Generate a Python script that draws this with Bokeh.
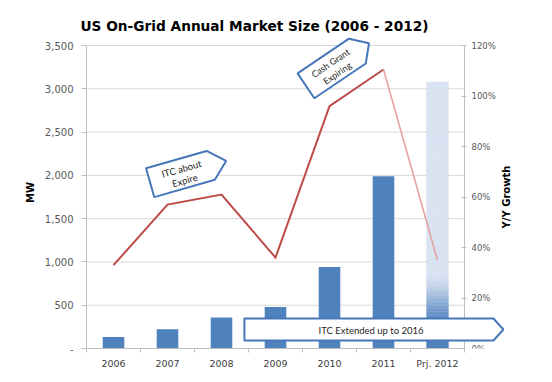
import math
from bokeh.plotting import figure
from bokeh.models import (Range1d, LinearAxis, FixedTicker, NumeralTickFormatter,
                          PrintfTickFormatter, PolyAnnotation, Label)
from bokeh.embed import file_html
from bokeh.resources import INLINE

# ---------------- data ----------------
years = ["2006", "2007", "2008", "2009", "2010", "2011", "Prj. 2012"]
market_mw = [134, 223, 358, 480, 942, 1990, 3078]
yoy_growth_pct = [33, 57, 61, 36, 96, 110.5, 35]
mw_ticks = [0, 500, 1000, 1500, 2000, 2500, 3000, 3500]
pct_ticks = [0, 20, 40, 60, 80, 100, 120]

# ---------------- styling / layout constants ----------------
BAR_BLUE = "#4f81bd"
BAR_LIGHT = (218, 227, 242)
LINE_RED = "#be4b48"
LINE_PALE = "#e6a3a1"
CALLOUT_BLUE = "#4677b8"
TICK_GRAY = "#595959"
AXIS_GRAY = "#bfbfbf"
GRID_GRAY = "#d9d9d9"

W, H = 544, 374
B_LEFT, B_RIGHT, B_TOP, B_BOTTOM = 86, 28, 36, 26
FRAME_W = W - B_LEFT - B_RIGHT
FRAME_H = H - B_TOP - B_BOTTOM
PX_PER_CAT = 54.0          # pixels per category
PX_PER_MW = 303.0 / 3500   # pixels per MW
X_LO, X_HI = -0.5, 6.5     # plotted category extent
Y_HI, PCT_HI = 3500, 120   # plotted value extent
X_END = X_LO + FRAME_W / PX_PER_CAT
Y_END = FRAME_H / PX_PER_MW
PCT_END = PCT_HI * Y_END / Y_HI

xs = list(range(len(years)))

p = figure(width=W, height=H, output_backend="svg", toolbar_location=None,
           x_range=Range1d(X_LO, X_END), y_range=Range1d(0, Y_END),
           min_border_left=B_LEFT, min_border_right=B_RIGHT,
           min_border_top=B_TOP, min_border_bottom=B_BOTTOM,
           title="US On-Grid Annual Market Size (2006 - 2012)")
p.outline_line_color = None
p.background_fill_color = "white"
p.border_fill_color = "white"
p.xgrid.visible = False
p.ygrid.visible = False

p.title.align = "left"
p.title.offset = -6
p.title.standoff = 5
p.title.text_font = "DejaVu Sans"
p.title.text_font_size = "13.7px"
p.title.text_font_style = "bold"
p.title.text_color = "#000000"

p.extra_y_ranges = {"pct": Range1d(0, PCT_END)}

# x axis
xax = p.xaxis[0]
xax.bounds = (X_LO, X_HI)
xax.ticker = FixedTicker(ticks=xs, minor_ticks=[x - 0.5 for x in xs] + [xs[-1] + 0.5])
xax.major_label_overrides = {i: y for i, y in enumerate(years)}
xax.major_tick_in = 0
xax.major_tick_out = 0
xax.minor_tick_in = 0
xax.minor_tick_out = 4
xax.minor_tick_line_color = AXIS_GRAY
xax.axis_line_color = AXIS_GRAY
xax.major_label_text_font = "DejaVu Sans"
xax.major_label_text_font_size = "9.5px"
xax.major_label_text_color = "#404040"
xax.major_label_standoff = 5

# left axis
yax = p.yaxis[0]
yax.bounds = (0, Y_HI)
yax.ticker = FixedTicker(ticks=mw_ticks)
yax.formatter = NumeralTickFormatter(format="0,0")
yax.major_label_overrides = {0: "-"}
yax.major_tick_in = 0
yax.major_tick_out = 5
yax.minor_tick_out = 0
yax.minor_tick_in = 0
yax.major_tick_line_color = AXIS_GRAY
yax.axis_line_color = AXIS_GRAY
yax.major_label_text_font = "DejaVu Sans"
yax.major_label_text_font_size = "10px"
yax.major_label_text_color = TICK_GRAY
yax.major_label_standoff = 8
yax.axis_label = "MW"
yax.axis_label_text_font = "DejaVu Sans"
yax.axis_label_text_font_size = "10px"
yax.axis_label_text_font_style = "bold"
yax.axis_label_text_color = "#000000"
yax.axis_label_standoff = 6

# right axis, drawn at the right end of the categories
rax = LinearAxis(y_range_name="pct", ticker=FixedTicker(ticks=pct_ticks),
                 formatter=PrintfTickFormatter(format="%d%%"),
                 fixed_location=X_HI, bounds=(0, PCT_HI))
rax.major_tick_in = 3
rax.major_tick_out = 2
rax.minor_tick_in = 0
rax.minor_tick_out = 0
rax.major_tick_line_color = AXIS_GRAY
rax.axis_line_color = AXIS_GRAY
rax.major_label_text_font = "DejaVu Sans"
rax.major_label_text_font_size = "8.5px"
rax.major_label_text_color = TICK_GRAY
rax.major_label_standoff = 5
p.add_layout(rax, "right")

# horizontal gridlines at the MW ticks, limited to the category extent
p.segment(x0=[X_LO] * len(mw_ticks), x1=[X_HI] * len(mw_ticks), y0=mw_ticks, y1=mw_ticks,
          line_color=GRID_GRAY, line_width=1)

# ---------------- bars ----------------
BAR_W = 0.4
p.vbar(x=xs[:-1], top=market_mw[:-1], width=BAR_W, fill_color=BAR_BLUE, line_color=None)

# projected bar: vertical gradient built from stacked slices
N = 80
proj = market_mw[-1]
dark = (79, 129, 189)
bots, tops, cols = [], [], []
for i in range(N):
    f = (i + 0.5) / N
    s = min(max((f - 0.07) / 0.22, 0.0), 1.0)
    s = s * s * (3 - 2 * s)
    c = tuple(int(round(dark[k] * (1 - s) + BAR_LIGHT[k] * s)) for k in range(3))
    bots.append(proj * i / N)
    tops.append(proj * (i + 1) / N)
    cols.append("#%02x%02x%02x" % c)
p.quad(left=[xs[-1] - BAR_W / 2] * N, right=[xs[-1] + BAR_W / 2] * N,
       bottom=bots, top=tops, fill_color=cols, line_color=cols, line_width=0.6)

# ---------------- growth line ----------------
p.line(xs[:-1], yoy_growth_pct[:-1], y_range_name="pct", line_color=LINE_RED,
       line_width=2, line_join="miter")
p.line(xs[-2:], yoy_growth_pct[-2:], y_range_name="pct", line_color=LINE_PALE, line_width=1.6)

# right axis title (reads bottom-to-top)
p.add_layout(Label(x=X_HI + 42 / PX_PER_CAT, y=PCT_HI / 2, y_range_name="pct",
                   text="Y/Y Growth", angle=math.pi / 2, text_align="center",
                   text_baseline="middle", text_font="DejaVu Sans", text_font_size="10px",
                   text_font_style="bold", text_color="#000000"))

# ---------------- callouts ----------------
PXX = 1.0 / PX_PER_CAT
PXY = 1.0 / PX_PER_MW


def homeplate(cx, cy, w, h, t, deg):
    th = math.radians(deg)
    pts = [(-w / 2, h / 2), (w / 2, h / 2), (w / 2 + t, 0), (w / 2, -h / 2), (-w / 2, -h / 2)]
    px, py = [], []
    for u, v in pts:
        px.append(cx + (u * math.cos(th) - v * math.sin(th)) * PXX)
        py.append(cy + (u * math.sin(th) + v * math.cos(th)) * PXY)
    return px, py


callouts = [
    # center x, center y, w px, h px, tip px, angle, text, text x, text y, font size
    (1.24, 2015, 63, 30, 16, 16, "ITC about\nExpire", 1.29, 2008, "9.5px"),
    (4.04, 3235, 62, 30, 14, 34, "Cash Grant\nExpiring", 4.08, 3240, "9px"),
    (4.73, 220, 249, 22, 10, 0, "ITC Extended up to 2016", 4.77, 212, "9.5px"),
]
for cx, cy, w, h, t, deg, txt, tx, ty, fs in callouts:
    hx, hy = homeplate(cx, cy, w, h, t, deg)
    p.add_layout(PolyAnnotation(xs=hx, ys=hy, fill_color="white", fill_alpha=1.0,
                                line_color=CALLOUT_BLUE, line_alpha=1.0, line_width=2))
    p.add_layout(Label(x=tx, y=ty, text=txt, angle=math.radians(deg),
                       text_align="center", text_baseline="middle",
                       text_font="Lato", text_font_size=fs, text_color="#262626",
                       text_line_height=1.1))

open("out.html", "w").write(file_html(p, INLINE))
